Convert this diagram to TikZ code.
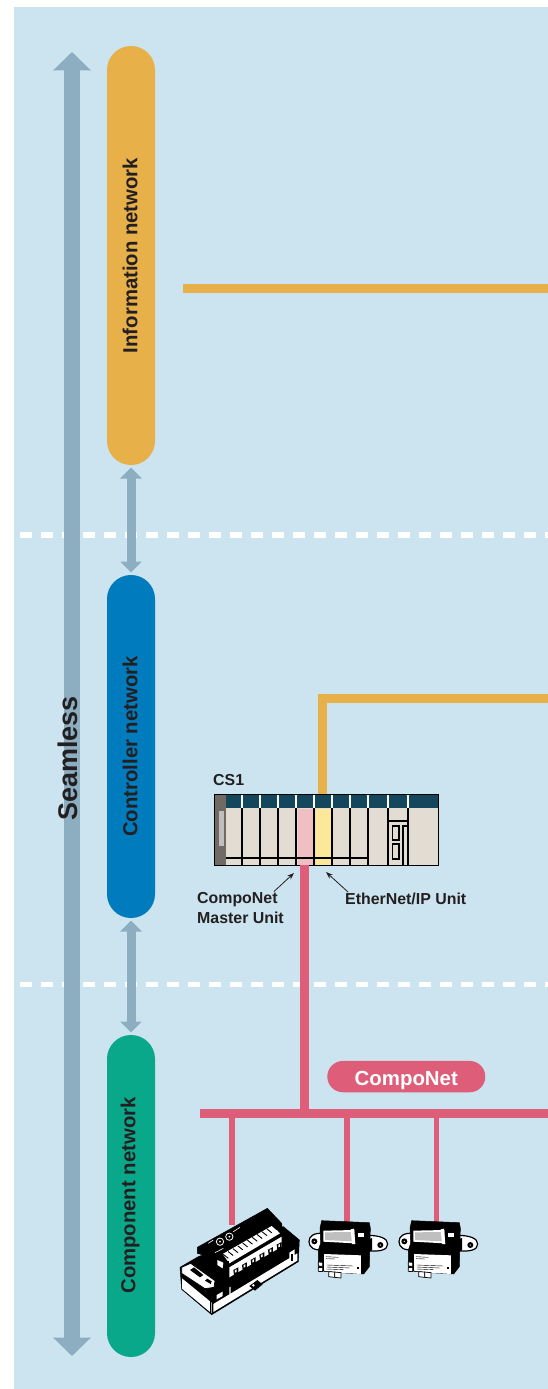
\documentclass[tikz,border=0pt]{standalone}
\usepackage{fontspec}
\setmainfont{Liberation Sans}
\usetikzlibrary{arrows.meta,calc}
\definecolor{panel}{HTML}{CBE4EF}
\definecolor{netorange}{HTML}{E7B048}
\definecolor{netblue}{HTML}{007BBD}
\definecolor{netgreen}{HTML}{09A88A}
\definecolor{steel}{HTML}{8DADC0}
\definecolor{netpink}{HTML}{DE5D78}
\definecolor{ink}{HTML}{231F20}
\definecolor{teal}{HTML}{15475C}
\definecolor{slotbg}{HTML}{E3DCD2}
\definecolor{slotpink}{HTML}{F0BFC4}
\definecolor{slotyellow}{HTML}{FDE89A}
\definecolor{endgray}{HTML}{6F6A64}
\tikzset{
  x=1pt,y=-1pt,
  pill/.style={rectangle,rounded corners=23.9pt,minimum width=#1,minimum height=48pt,inner sep=0pt,rotate=90,outer sep=0pt},
  pilltext/.style={font=\bfseries\fontsize{20.3}{21}\selectfont,text=ink,rotate=90,inner sep=0pt},
  lbl/.style={font=\bfseries\fontsize{15.9}{19.5}\selectfont,text=ink,inner sep=0pt,align=left},
  sep/.style={white,line width=5.5pt,dash pattern=on 12pt off 9pt},
  bigarrow/.style={steel,line width=16pt,{Triangle[width=37pt,length=18.5pt]}-{Triangle[width=37pt,length=18.5pt]}},
  linkarrow/.style={steel,line width=9pt,{Triangle[width=21pt,length=11pt]}-{Triangle[width=21pt,length=11pt]},shorten <=2.5pt,shorten >=2.5pt},
  orangeline/.style={netorange,line width=9pt},
  pinkbig/.style={netpink,line width=9pt},
  pinkdrop/.style={netpink,line width=5.3pt},
  thinarrow/.style={ink,line width=.8pt,-{Stealth[length=7pt,width=5pt]}},
  blk/.style={fill=black,draw=black,line width=.5pt,line join=round},
  wht/.style={fill=white,draw=black,line width=.7pt,line join=round},
  smallunit/.pic={
    \begin{scope}[x=.3333pt,y=-.3333pt]
      \path[wht,line width=1.2pt] (70,100) .. controls (42,98) and (27,108) .. (27,125) .. controls (27,142) and (42,152) .. (70,150) -- cycle;
      \path[wht,line width=1.2pt] (200,106) .. controls (240,106) and (263,115) .. (263,132) .. controls (263,150) and (240,156) .. (200,152) -- cycle;
      \fill[black] (43,124) circle (9); \fill[white] (43,124) circle (2);
      \fill[black] (241,135) circle (9); \fill[white] (241,135) circle (2);
      \path[blk] (65,62) -- (208,68) -- (211,85) -- (208,200) -- (191,222) -- (120,218) -- (72,214) -- (55,205) -- (55,150) -- (62,130) -- (60,85) -- cycle;
      \fill[white] (70,92) -- (163,90) -- (164,130) -- (70,125) -- cycle;
      \fill[black!25] (75,97) -- (158,96) -- (158,124) -- (75,120) -- cycle;
      \fill[white] (152,88) -- (162,86) -- (166,132) -- (156,132) -- cycle;
      \fill[white] (175,100) -- (192,100) -- (192,110) -- (175,110) -- cycle;
      \fill[white] (72,162) -- (183,166) -- (183,222) -- (122,218) -- (72,212) -- cycle;
      \draw[black,line width=.4pt] (78,170)--(115,172) (78,176)--(105,177) (80,195)--(160,198) (80,201)--(150,204) (80,207)--(130,209);
      \fill[black] (172,200) rectangle (176,208);
      \path[wht] (86,215) -- (104,216) -- (104,232) -- (86,230) -- cycle;
      \path[wht] (104,216) -- (123,218) -- (123,234) -- (104,232) -- cycle;
      \path[wht] (55,186) -- (68,187) -- (68,199) -- (55,198) -- cycle;
      \path[wht] (55,202) -- (68,203) -- (68,215) -- (55,214) -- cycle;
      \path[blk] (204,120) -- (216,115) -- (216,150) -- (204,155) -- cycle;
    \end{scope}
  }
}
\begin{document}
\begin{tikzpicture}[line cap=butt]
\useasboundingbox (0,0) rectangle (548,1389);
\fill[white] (0,0) rectangle (548,1389);
\fill[panel] (14,7) rectangle (548,1388.5);

\coordinate (sepAl) at (20,535); \coordinate (sepAr) at (548,535);
\coordinate (sepBl) at (20,984.5); \coordinate (sepBr) at (548,984.5);
\draw[sep] (sepAl) -- (sepAr);
\draw[sep] (sepBl) -- (sepBr);

\coordinate (seamTop) at (72,52); \coordinate (seamBot) at (72,1356);
\draw[bigarrow] (seamTop) -- (seamBot);

\node[pill=419pt,fill=netorange] (info) at (131,255.5) {};
\node[pill=343pt,fill=netblue] (ctrl) at (131,746.5) {};
\node[pill=322pt,fill=netgreen] (comp) at (131,1196) {};
\draw[linkarrow] (info.west) -- (ctrl.east);
\draw[linkarrow] (ctrl.west) -- (comp.east);

\node[font=\bfseries\fontsize{27}{28}\selectfont,text=ink,rotate=90,inner sep=0pt] (seam) at (68,758.5) {Seamless};
\node[pilltext] (infot) at (130,255.5) {Information network};
\node[pilltext] (ctrlt) at (130,746.5) {Controller network};
\node[pilltext] (compt) at (130,1195.5) {Component network};

% CS1 rack
\node[lbl,anchor=west] (cs) at (213,780.5) {CS1};
\node[rectangle,draw=black,line width=.8pt,fill=slotbg,minimum width=224pt,minimum height=71pt,inner sep=0pt] (plc) at (326,829.5) {};
\node[rectangle,fill=slotpink,minimum width=16pt,minimum height=57pt,inner sep=0pt] (mu) at (306,837) {};
\node[rectangle,fill=slotyellow,minimum width=16pt,minimum height=57pt,inner sep=0pt] (eu) at (324,837) {};
\fill[teal] (214,794.5) rectangle (438,808);
\fill[endgray] (214.5,794.5) rectangle (226,864.5);
\fill[black!25] (219,810.5) rectangle (224,846);
\foreach \sx in {242.3,260.3,278.3,296.3,314.3,332.3,350.3,368.3,388.3,408.3}{
  \draw[black,line width=2pt] (\sx,808) -- (\sx,865);
  \draw[white!90!slotbg,line width=2pt] (\sx,795) -- (\sx,808);
}
\draw[black,line width=2pt] (226,857.7) -- (369,857.7);
\draw[black,line width=2pt] (389,821) -- (408,821);
\draw[black,line width=1.7pt] (392.5,826) rectangle (399,840);
\draw[black,line width=1.7pt] (392.5,844) rectangle (399,859);
\draw[black,line width=1.7pt] (408,826) -- (403,826) -- (403,865);
\draw[black,line width=.8pt] (214,794) rectangle (438,865);

% network lines
\coordinate (infoL) at (183,288.5); \coordinate (infoR) at (548,288.5);
\draw[orangeline] (infoL) -- (infoR);
\coordinate (enetR) at (548,698.5);
\draw[orangeline,line join=miter] ([xshift=-1.8pt]plc.north -| eu.north) -- ([xshift=-1.8pt,yshift=0pt]eu.north |- enetR) -- (enetR);
\node[rectangle,fill=netpink,minimum height=8.7pt,minimum width=348pt,inner sep=0pt] (bus) at (374,1113.4) {};
\draw[pinkbig] ([xshift=-1.5pt]plc.south -| mu.south) -- ([xshift=-1.5pt]bus.north -| mu.south);
\coordinate (drop1) at (232,1225); \coordinate (drop2) at (347,1222); \coordinate (drop3) at (436.7,1222);
\draw[pinkdrop] (bus.south -| drop1) -- (drop1);
\draw[pinkdrop] (bus.south -| drop2) -- (drop2);
\draw[pinkdrop] (bus.south -| drop3) -- (drop3);

\node[rectangle,rounded corners=15.6pt,fill=netpink,minimum width=158pt,minimum height=31.3pt,inner sep=0pt,text=white,font=\bfseries\fontsize{20.4}{20}\selectfont,text depth=0pt,text height=18pt] (cn) at (406.3,1076.6) {CompoNet};

\node[lbl,anchor=north west] (ml) at (197,892.5) {CompoNet\\Master Unit};
\node[lbl,anchor=north west] (el) at (345,893) {EtherNet/IP Unit};
\coordinate (mlT) at (294,873); \coordinate (elT) at (326,872);
\draw[thinarrow] ([xshift=-10pt,yshift=1pt]ml.north east) -- (mlT);
\draw[thinarrow] ([xshift=3pt,yshift=1pt]el.north west) -- (elT);

% Large I/O unit
\begin{scope}[shift={(170,1190)},x=.3333pt,y=-.3333pt]
  \path[blk] (30,232) -- (85,200) -- (340,110) -- (388,150) -- (385,215) -- (125,374) -- (35,298) -- cycle;
  % white faces
  \fill[white] (36,265) -- (125,338) -- (125,370) -- (36,296) -- cycle;
  \fill[white] (130,342) -- (382,190) -- (382,212) -- (130,366) -- cycle;
  \fill[black] (120,320) rectangle (123,372);
  \fill[black] (238,288) -- (262,270) -- (278,283) -- (255,302) -- cycle;
  \fill[white] (250,286) circle (4);
  \fill[white] (170,325) -- (212,300) -- (212,304) -- (170,329) -- cycle;
  \fill[white] (303,248) -- (342,225) -- (342,229) -- (303,252) -- cycle;
  \fill[white] (140,315) -- (158,305) -- (158,318) -- (140,328) -- cycle;
  \fill[white] (358,188) -- (374,178) -- (374,214) -- (358,222) -- cycle;
  \fill[black] (362,192) rectangle (370,212);
  \fill[white] (178,292) -- (182,290) -- (182,312) -- (178,314) -- cycle;
  % DIN clip
  \path[wht] (35,232) -- (62,220) -- (135,272) -- (132,292) -- (105,296) -- (35,250) -- cycle;
  \fill[black] (60,240) -- (90,262) -- (100,255) -- (72,232) -- cycle;
  \fill[black] (105,272) -- (122,282) -- (125,274) -- (112,266) -- cycle;
  % upper module
  \path[blk] (82,172) -- (292,55) -- (335,100) -- (338,130) -- (178,262) -- (168,215) -- (82,190) -- cycle;
  % dials
  \draw[white,line width=.8pt] (150,155) circle (11);
  \draw[white,line width=.8pt] (178,140) circle (11);
  \fill[white] (150,155) circle (3); \fill[white] (178,140) circle (3);
  \draw[white,line width=.6pt] (135,188)--(160,175) (190,125)--(210,112) (115,160)--(130,150);
  % terminal block
  \fill[white] (158,192) -- (305,108) -- (330,130) -- (178,220) -- cycle;
  \foreach \tk in {0,1,...,9}{
    \draw[black,line width=.9pt] ($(175,205)+\tk*(14.5,-8.5)$) -- ($(160,193)+\tk*(14.5,-8.5)$);
  }
  \fill[white] (178,232) -- (335,140) -- (335,170) -- (178,262) -- cycle;
  \foreach \tk in {0,1,...,5}{
    \fill[black] ($(190,240)+\tk*(26,-15.2)$) -- ($(205,232)+\tk*(26,-15.2)$) -- ($(205,250)+\tk*(26,-15.2)$) -- ($(192,255)+\tk*(26,-15.2)$) -- cycle;
    \fill[white] ($(195,240)+\tk*(26,-15.2)$) -- ($(200,238)+\tk*(26,-15.2)$) -- ($(200,246)+\tk*(26,-15.2)$) -- ($(195,248)+\tk*(26,-15.2)$) -- cycle;
  }
  \fill[white] (320,125) circle (5);
  \fill[white] (142,210) -- (160,218) -- (158,235) -- (142,225) -- cycle;
  \fill[black] (168,212) rectangle (178,265);
\end{scope}

% Small units
\path (300,1200) pic {smallunit};
\path (390,1200) pic {smallunit};
\end{tikzpicture}
\end{document}
